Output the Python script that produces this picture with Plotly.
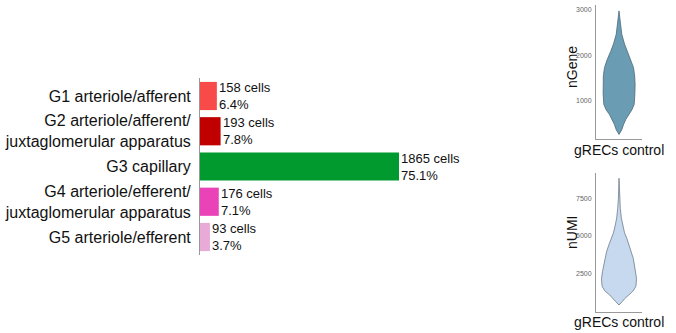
import plotly.graph_objects as go

# Cluster composition of glomerular endothelial cells
groups = [
    "G1 arteriole/afferent",
    "G2 arteriole/afferent/<br>juxtaglomerular apparatus",
    "G3 capillary",
    "G4 arteriole/efferent/<br>juxtaglomerular apparatus",
    "G5 arteriole/efferent",
]
cell_counts = [158, 193, 1865, 176, 93]
percents = [6.4, 7.8, 75.1, 7.1, 3.7]
bar_colors = ["#F94A4A", "#C00000", "#009A2E", "#EA43B8", "#E8AAD6"]

# Violin outlines (value, half-width as fraction of panel width)
ngene_vals = [2980, 2750, 2467, 2250, 2089, 1900, 1733, 1550, 1363, 1150, 919, 800, 700, 590, 478, 360, 256]
ngene_half = [0.0, 0.03, 0.06, 0.12, 0.18, 0.26, 0.315, 0.34, 0.35, 0.345, 0.33, 0.28, 0.21, 0.15, 0.10, 0.06, 0.0]
numi_vals = [8833, 7500, 6833, 6200, 5720, 5200, 4833, 4400, 3940, 3500, 3053, 2600, 2167, 1850, 1607, 1300, 1053, 800, 607, 387]
numi_half = [0.0, 0.012, 0.028, 0.05, 0.08, 0.12, 0.17, 0.22, 0.27, 0.31, 0.335, 0.36, 0.38, 0.375, 0.365, 0.30, 0.20, 0.12, 0.07, 0.0]

W, H = 676, 333
fig = go.Figure()

fig.add_trace(go.Bar(
    x=cell_counts, y=groups, orientation="h",
    marker=dict(color=bar_colors, line=dict(width=0)),
    width=0.8, xaxis="x", yaxis="y", showlegend=False,
))

for n, p, g in zip(cell_counts, percents, groups):
    fig.add_annotation(
        x=n, y=g, xref="x", yref="y", text=f"{n} cells<br>{p}%",
        showarrow=False, xanchor="left", align="left", xshift=0,
        font=dict(size=13, color="#111"),
    )


def violin_outline(vals, half):
    xs = [0.5 + h for h in half] + [0.5 - h for h in reversed(half)]
    ys = list(vals) + list(reversed(vals))
    return xs, ys


xs, ys = violin_outline(ngene_vals, ngene_half)
fig.add_trace(go.Scatter(x=xs, y=ys, mode="lines", fill="toself",
                         fillcolor="#6A9DB3", line=dict(color="#4D6878", width=0.8),
                         xaxis="x2", yaxis="y2", showlegend=False))
xs, ys = violin_outline(numi_vals, numi_half)
fig.add_trace(go.Scatter(x=xs, y=ys, mode="lines", fill="toself",
                         fillcolor="#C6D9EE", line=dict(color="#6F7C88", width=0.8),
                         xaxis="x3", yaxis="y3", showlegend=False))

vx_dom = [596 / W, 642 / W]
small_axis = dict(showline=True, linecolor="#999", linewidth=1, showgrid=False,
                  zeroline=False, ticks="", tickfont=dict(size=7, color="#666"))

fig.update_layout(
    width=W, height=H, margin=dict(l=0, r=0, t=0, b=0),
    paper_bgcolor="white", plot_bgcolor="white",
    font=dict(family="Liberation Sans, Arial, sans-serif", color="#111"),
    bargap=0.2,
    xaxis=dict(domain=[200 / W, 460 / W], range=[0, 1865 * 260 / 199],
               visible=False, fixedrange=True),
    yaxis=dict(domain=[1 - 255 / H, 1 - 78 / H], autorange="reversed",
               showline=True, linecolor="#999", linewidth=1, ticks="",
               ticklabelstandoff=5, tickfont=dict(size=16, color="#111"),
               showgrid=False, zeroline=False),
    xaxis2=dict(domain=vx_dom, range=[0, 1], anchor="y2", showticklabels=False, **small_axis),
    yaxis2=dict(domain=[1 - 139 / H, 1 - 5 / H], range=[156, 3111], anchor="x2",
                tickvals=[1000, 2000, 3000], ticklabelstandoff=2, **small_axis),
    xaxis3=dict(domain=vx_dom, range=[0, 1], anchor="y3", showticklabels=False, **small_axis),
    yaxis3=dict(domain=[1 - 312 / H, 1 - 173 / H], range=[-80, 9187], anchor="x3",
                tickvals=[2500, 5000, 7500], ticklabelstandoff=2, **small_axis),
)

for txt, x, y, ang in [("nGene", 572, 67, -90), ("nUMI", 572, 233, -90),
                       ("gRECs control", 619, 150, 0), ("gRECs control", 619, 322, 0)]:
    fig.add_annotation(x=x / W, y=1 - y / H, xref="paper", yref="paper", text=txt,
                       textangle=ang, showarrow=False, xanchor="center", yanchor="middle",
                       font=dict(size=14, color="#111"))

fig.write_html("out.html")
